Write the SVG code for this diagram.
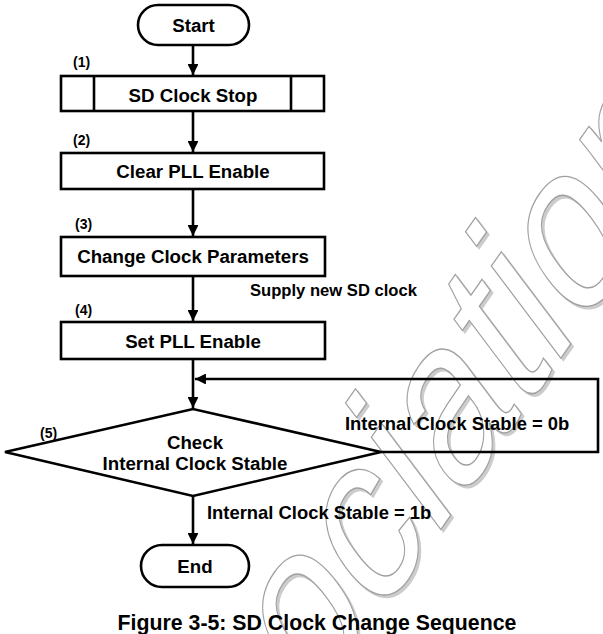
<svg xmlns="http://www.w3.org/2000/svg" width="603" height="634" viewBox="0 0 603 634">
<defs>
<style>
.sh{fill:#fff;stroke:#000;stroke-width:2.6}
.ln{fill:none;stroke:#000;stroke-width:2.6}
.t{font-family:"Liberation Sans",Arial,sans-serif;font-weight:bold;fill:#000}
.bx{font-size:18.7px;text-anchor:middle}
.num{font-size:14px}
.lb{font-size:18.4px}
.wm{font-family:"Liberation Sans",Arial,sans-serif;font-size:198px}
</style>
<marker id="ah" viewBox="0 0 10 10" refX="10" refY="5" markerWidth="4.4" markerHeight="4.2" orient="auto" markerUnits="strokeWidth">
<path d="M0,0 L10,5 L0,10 Z" fill="#000"/>
</marker>
</defs>
<rect width="603" height="634" fill="#fff"/>
<g id="watermark">
<text class="wm" transform="translate(126.5,984.5) rotate(-55) skewX(-18) scale(1,1.05)" fill="#cccccc" stroke="#cccccc" stroke-width="1.2">Association</text>
<text class="wm" transform="translate(124,982) rotate(-55) skewX(-18) scale(1,1.05)" fill="#fff" stroke="#a0a0a0" stroke-width="1.2">Association</text>
</g>
<g id="connectors">
<line class="ln" x1="193" y1="46" x2="193" y2="75" marker-end="url(#ah)"/>
<line class="ln" x1="193" y1="111" x2="193" y2="152" marker-end="url(#ah)"/>
<line class="ln" x1="193" y1="189" x2="193" y2="236" marker-end="url(#ah)"/>
<line class="ln" x1="193" y1="276" x2="193" y2="321" marker-end="url(#ah)"/>
<line class="ln" x1="193" y1="359" x2="193" y2="408" marker-end="url(#ah)"/>
<polyline class="ln" points="381,452 598,452 598,379 195,379" marker-end="url(#ah)"/>
<line class="ln" x1="193" y1="496" x2="193" y2="544" marker-end="url(#ah)"/>
<text class="t" x="250" y="296" font-size="16.6">Supply new SD clock</text>
<text class="t lb" x="345" y="430">Internal Clock Stable = 0b</text>
<text class="t lb" x="207" y="519">Internal Clock Stable = 1b</text>
</g>
<g id="start">
<rect class="sh" x="138" y="5" width="111" height="40" rx="20"/>
<text class="t bx" x="193.5" y="32">Start</text>
</g>
<g id="step1">
<text class="t num" x="73" y="67">(1)</text>
<rect class="sh" x="61" y="76" width="263" height="35"/>
<line class="ln" x1="94" y1="76" x2="94" y2="111"/>
<line class="ln" x1="291" y1="76" x2="291" y2="111"/>
<text class="t bx" x="193" y="102">SD Clock Stop</text>
</g>
<g id="step2">
<text class="t num" x="73" y="145">(2)</text>
<rect class="sh" x="61" y="153" width="263" height="36"/>
<text class="t bx" x="193" y="178">Clear PLL Enable</text>
</g>
<g id="step3">
<text class="t num" x="75" y="229">(3)</text>
<rect class="sh" x="61" y="237" width="264" height="39"/>
<text class="t bx" x="193" y="263">Change Clock Parameters</text>
</g>
<g id="step4">
<text class="t num" x="75" y="315">(4)</text>
<rect class="sh" x="61" y="322" width="264" height="37"/>
<text class="t bx" x="193" y="348">Set PLL Enable</text>
</g>
<g id="check">
<text class="t num" x="40" y="438">(5)</text>
<polygon class="ln" points="5,452 193,409 381,452 193,496"/>
<text class="t bx" x="195" y="449">Check</text>
<text class="t bx" x="195" y="470">Internal Clock Stable</text>
</g>
<g id="end">
<rect class="sh" x="141" y="545" width="108" height="42" rx="21"/>
<text class="t bx" x="195" y="573">End</text>
</g>
<text class="t" x="317" y="630" font-size="21.3" text-anchor="middle">Figure 3-5: SD Clock Change Sequence</text>
</svg>
